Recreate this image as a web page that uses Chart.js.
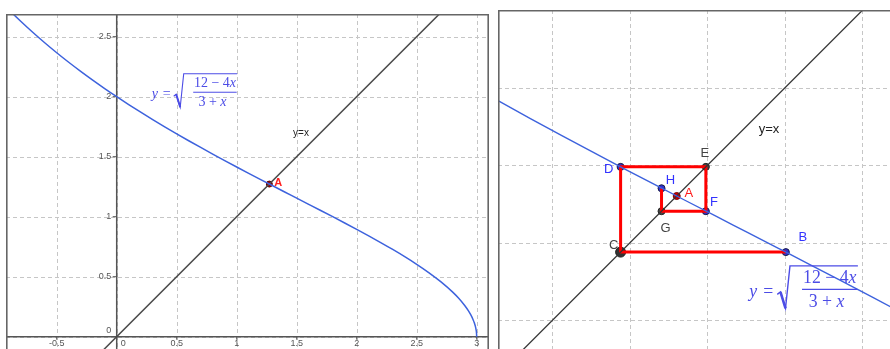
<!DOCTYPE html>
<html>
<head>
<meta charset="utf-8">
<script src="https://cdn.jsdelivr.net/npm/chart.js@4.4.1/dist/chart.umd.min.js"></script>
<style>
  html, body { margin: 0; padding: 0; background: #fff; width: 890px; height: 349px; overflow: hidden; }
  .panel { position: absolute; }
  #leftBox  { left: 6px;   top: 14px; width: 483px; height: 335px; }
  #rightBox { left: 498px; top: 10px; width: 392px; height: 339px; }
</style>
</head>
<body>
<div id="leftBox" class="panel"><canvas id="left" width="483" height="335"></canvas></div>
<div id="rightBox" class="panel"><canvas id="right" width="392" height="339"></canvas></div>
<script>
// y = sqrt((12 - 4x) / (3 + x)), sampled values
const curveX = [-1.0, -0.9, -0.8, -0.7, -0.6, -0.5, -0.4, -0.3, -0.2, -0.1, 0, 0.1, 0.2, 0.3, 0.4, 0.5, 0.6, 0.7, 0.8, 0.9, 1.0,
  1.1, 1.2, 1.3, 1.4, 1.5, 1.6, 1.7, 1.8, 1.9, 2.0, 2.1, 2.2, 2.3, 2.4, 2.5, 2.6, 2.7, 2.8, 2.85, 2.9, 2.93, 2.95, 2.97, 2.98, 2.99, 2.995, 2.998, 3.0];
const curveY = [2.8284, 2.7255, 2.6285, 2.5367, 2.4495, 2.3664, 2.2871, 2.2111, 2.1381, 2.0678, 2.0, 1.9344, 1.8708, 1.8091, 1.7490, 1.6903, 1.6330, 1.5769, 1.5218, 1.4676, 1.4142,
  1.3615, 1.3093, 1.2575, 1.2060, 1.1547, 1.1033, 1.0518, 1.0, 0.9476, 0.8944, 0.8402, 0.7845, 0.7268, 0.6667, 0.6030, 0.5345, 0.4588, 0.3714, 0.3203, 0.2604, 0.2173, 0.1833, 0.1418, 0.1157, 0.0817, 0.0578, 0.0365, 0];

// the line y = x
const diagX = [-1.5, 3.5];
const diagY = [-1.5, 3.5];

// fixed point A and the cobweb path B -> C -> D -> E -> F -> G -> H
const fixedPoint = 1.272;
const cobwebX = [1.624, 1.091, 1.091, 1.366, 1.366, 1.223, 1.223];
const cobwebY = [1.091, 1.091, 1.366, 1.366, 1.223, 1.223, 1.297];

// labelled points on the zoomed view
const pointNames = ['D', 'E', 'H', 'A', 'F', 'G', 'C', 'B'];
const pointX = [1.091, 1.366, 1.223, 1.272, 1.366, 1.223, 1.091, 1.624];
const pointY = [1.366, 1.366, 1.297, 1.272, 1.223, 1.223, 1.091, 1.091];

// axis ticks of the overview
const leftTicksX = [-0.5, 0, 0.5, 1, 1.5, 2, 2.5, 3];
const leftTickLabelsX = ['-0.5', '0', '0.5', '1', '1.5', '2', '2.5', '3'];
const leftTicksY = [0, 0.5, 1, 1.5, 2, 2.5];
const leftTickLabelsY = ['0', '0.5', '1', '1.5', '2', '2.5'];

// grid of the zoomed view
const rightGrid = [0.871, 1.121, 1.371, 1.621, 1.871];

// ---------- styling ----------
const BLUE = '#3d62dd';
const FORMULA = '#4c4ce6';
const GRID = '#c6c6c6';
const FRAME = '#666666';
const SANS = '"Liberation Sans", Arial, sans-serif';
const SERIF = '"Liberation Serif", "DejaVu Serif", serif';

const pointStyle = {
  D: { fill: '#2f2fd0', stroke: '#1a1a40', r: 3.5, text: '#3333ff', dx: -12, dy: 3 },
  E: { fill: '#444444', stroke: '#222222', r: 3.5, text: '#444444', dx: -1, dy: -13 },
  H: { fill: '#2f2fd0', stroke: '#1a1a40', r: 3.5, text: '#3333ff', dx: 9, dy: -8 },
  A: { fill: '#d00000', stroke: '#700000', r: 3.5, text: '#ff1a1a', dx: 12, dy: -3 },
  F: { fill: '#2f2fd0', stroke: '#1a1a40', r: 3.5, text: '#3333ff', dx: 8, dy: -9 },
  G: { fill: '#444444', stroke: '#222222', r: 3.5, text: '#444444', dx: 4, dy: 17 },
  C: { fill: '#333333', stroke: '#222222', r: 5, text: '#444444', dx: -7, dy: -7 },
  B: { fill: '#2f2fd0', stroke: '#1a1a40', r: 3.5, text: '#3333ff', dx: 17, dy: -15 }
};

const toXY = (xs, ys) => xs.map((x, i) => ({ x: x, y: ys[i] }));

function baseOptions(xr, yr) {
  return {
    responsive: false,
    animation: false,
    devicePixelRatio: 1,
    events: [],
    layout: { padding: 0, autoPadding: false },
    plugins: { legend: { display: false }, tooltip: { enabled: false } },
    scales: {
      x: { type: 'linear', display: false, min: xr[0], max: xr[1] },
      y: { type: 'linear', display: false, min: yr[0], max: yr[1] }
    }
  };
}

function dashedGrid(chart, xs, ys) {
  const ctx = chart.ctx, a = chart.chartArea;
  const sx = chart.scales.x, sy = chart.scales.y;
  ctx.save();
  ctx.strokeStyle = GRID;
  ctx.lineWidth = 1;
  ctx.setLineDash([4, 3]);
  xs.forEach(v => {
    if (v < sx.min || v > sx.max) return;
    const p = Math.round(sx.getPixelForValue(v)) + 0.5;
    ctx.beginPath(); ctx.moveTo(p, a.top); ctx.lineTo(p, a.bottom); ctx.stroke();
  });
  ys.forEach(v => {
    if (v < sy.min || v > sy.max) return;
    const p = Math.round(sy.getPixelForValue(v)) + 0.5;
    ctx.beginPath(); ctx.moveTo(a.left, p); ctx.lineTo(a.right, p); ctx.stroke();
  });
  ctx.restore();
}

function frame(chart, sides) {
  const ctx = chart.ctx, w = chart.width, h = chart.height;
  ctx.save();
  ctx.strokeStyle = FRAME;
  ctx.lineWidth = 1.6;
  ctx.beginPath();
  if (sides.top)   { ctx.moveTo(0, 0.8); ctx.lineTo(w, 0.8); }
  if (sides.left)  { ctx.moveTo(0.8, 0); ctx.lineTo(0.8, h); }
  if (sides.right) { ctx.moveTo(w - 0.8, 0); ctx.lineTo(w - 0.8, h); }
  ctx.stroke();
  ctx.restore();
}

function mixedText(ctx, parts, cx, cy, size) {
  let total = 0;
  parts.forEach(p => { ctx.font = `${p[1]} ${size}px ${SERIF}`; total += ctx.measureText(p[0]).width; });
  let x = cx - total / 2;
  parts.forEach(p => {
    ctx.font = `${p[1]} ${size}px ${SERIF}`;
    ctx.fillText(p[0], x, cy);
    x += ctx.measureText(p[0]).width;
  });
}

// y = sqrt((12 - 4x)/(3 + x)) written with a radical sign and a fraction bar
function drawFormula(ctx, ox, oy, k, color) {
  const fs = 14 * k;
  ctx.save();
  ctx.fillStyle = color;
  ctx.strokeStyle = color;
  ctx.textBaseline = 'middle';
  ctx.textAlign = 'left';
  ctx.font = `italic ${fs}px ${SERIF}`;
  ctx.fillText('y', ox, oy + 2.5 * k);
  ctx.font = `${fs}px ${SERIF}`;
  ctx.fillText('=', ox + 11 * k, oy + 2.5 * k);
  ctx.lineJoin = 'miter';
  ctx.lineWidth = 1.1 * k;
  ctx.beginPath();
  ctx.moveTo(ox + 22 * k, oy + 4 * k);
  ctx.lineTo(ox + 24.5 * k, oy + 2 * k);
  ctx.lineTo(ox + 28.5 * k, oy + 15 * k);
  ctx.lineTo(ox + 32 * k, oy - 18.5 * k);
  ctx.lineTo(ox + 85.5 * k, oy - 18.5 * k);
  ctx.stroke();
  ctx.lineWidth = 2 * k;
  ctx.beginPath();
  ctx.moveTo(ox + 24.5 * k, oy + 2 * k);
  ctx.lineTo(ox + 28.5 * k, oy + 15 * k);
  ctx.stroke();
  ctx.lineWidth = 1 * k;
  ctx.beginPath();
  ctx.moveTo(ox + 41.5 * k, oy);
  ctx.lineTo(ox + 85 * k, oy);
  ctx.stroke();
  mixedText(ctx, [['12 \u2212 4', ''], ['x', 'italic']], ox + 63.3 * k, oy - 9 * k, fs);
  mixedText(ctx, [['3 + ', ''], ['x', 'italic']], ox + 60.8 * k, oy + 10.5 * k, fs);
  ctx.restore();
}

// ---------- overview: whole curve and y = x ----------
const leftDecor = {
  id: 'leftDecor',
  beforeDatasetsDraw(chart) {
    const ctx = chart.ctx, a = chart.chartArea;
    const sx = chart.scales.x, sy = chart.scales.y;
    dashedGrid(chart, leftTicksX, leftTicksY);
    const x0 = sx.getPixelForValue(0), y0 = sy.getPixelForValue(0);
    ctx.save();
    ctx.strokeStyle = '#555555';
    ctx.lineWidth = 1.5;
    ctx.beginPath();
    ctx.moveTo(a.left, y0); ctx.lineTo(a.right, y0);
    ctx.moveTo(x0, a.top); ctx.lineTo(x0, a.bottom);
    ctx.stroke();
    ctx.lineWidth = 1;
    ctx.beginPath();
    leftTicksX.forEach(v => { if (v === 0) return; const p = sx.getPixelForValue(v); ctx.moveTo(p, y0); ctx.lineTo(p, y0 + 3); });
    leftTicksY.forEach(v => { if (v === 0) return; const p = sy.getPixelForValue(v); ctx.moveTo(x0 - 4, p); ctx.lineTo(x0, p); });
    ctx.stroke();
    ctx.fillStyle = '#555555';
    ctx.font = `9px ${SANS}`;
    ctx.textBaseline = 'middle';
    ctx.textAlign = 'center';
    leftTicksX.forEach((v, i) => {
      const p = sx.getPixelForValue(v);
      ctx.fillText(leftTickLabelsX[i], v === 0 ? p + 6.5 : p, y0 + 7);
    });
    ctx.textAlign = 'right';
    leftTicksY.forEach((v, i) => {
      const p = sy.getPixelForValue(v);
      ctx.fillText(leftTickLabelsY[i], x0 - 5.5, v === 0 ? p - 6 : p);
    });
    ctx.restore();
  },
  afterDatasetsDraw(chart) {
    const ctx = chart.ctx;
    const sx = chart.scales.x, sy = chart.scales.y;
    ctx.save();
    ctx.textBaseline = 'middle';
    ctx.textAlign = 'center';
    ctx.fillStyle = '#222222';
    ctx.font = `10px ${SANS}`;
    ctx.fillText('y=x', sx.getPixelForValue(1.536), sy.getPixelForValue(1.6975));
    ctx.fillStyle = '#ff2020';
    ctx.font = `bold 11px ${SANS}`;
    ctx.fillText('A', sx.getPixelForValue(fixedPoint) + 9, sy.getPixelForValue(fixedPoint) - 1);
    ctx.restore();
    drawFormula(ctx, sx.getPixelForValue(0.2917), sy.getPixelForValue(2.037), 1, FORMULA);
    frame(chart, { top: true, left: true, right: true });
  }
};

new Chart(document.getElementById('left'), {
  type: 'scatter',
  data: {
    datasets: [
      { data: toXY(curveX, curveY), showLine: true, borderColor: BLUE, borderWidth: 1.5, pointRadius: 0,
        cubicInterpolationMode: 'monotone' },
      { data: toXY(diagX, diagY), showLine: true, borderColor: '#4a4a4a', borderWidth: 1.5, pointRadius: 0 },
      { data: [{ x: fixedPoint, y: fixedPoint }], pointRadius: 3, pointBackgroundColor: '#a00000',
        pointBorderColor: '#5a0000', pointBorderWidth: 1 }
    ]
  },
  options: baseOptions([-0.9225, 3.1025], [-0.1025, 2.689]),
  plugins: [leftDecor]
});

// ---------- zoomed view: cobweb around A ----------
const rightDecor = {
  id: 'rightDecor',
  beforeDatasetsDraw(chart) {
    dashedGrid(chart, rightGrid, rightGrid);
  },
  afterDatasetsDraw(chart) {
    const ctx = chart.ctx;
    const sx = chart.scales.x, sy = chart.scales.y;
    ctx.save();
    ctx.textBaseline = 'middle';
    ctx.textAlign = 'center';
    ctx.font = `13px ${SANS}`;
    pointNames.forEach((n, i) => {
      const st = pointStyle[n];
      ctx.fillStyle = st.text;
      ctx.fillText(n, sx.getPixelForValue(pointX[i]) + st.dx, sy.getPixelForValue(pointY[i]) + st.dy);
    });
    ctx.fillStyle = '#222222';
    ctx.font = `13px ${SANS}`;
    ctx.fillText('y=x', sx.getPixelForValue(1.5697), sy.getPixelForValue(1.4881));
    ctx.restore();
    drawFormula(ctx, sx.getPixelForValue(1.5062), sy.getPixelForValue(0.971), 1.27, FORMULA);
    frame(chart, { top: true, left: true });
  }
};

new Chart(document.getElementById('right'), {
  type: 'scatter',
  data: {
    datasets: [
      { data: toXY(curveX, curveY), showLine: true, borderColor: BLUE, borderWidth: 1.4, pointRadius: 0,
        cubicInterpolationMode: 'monotone' },
      { data: toXY(diagX, diagY), showLine: true, borderColor: '#333333', borderWidth: 1.3, pointRadius: 0 },
      { data: toXY(cobwebX, cobwebY), showLine: true, borderColor: '#ff0000', borderWidth: 3, pointRadius: 0,
        borderJoinStyle: 'miter' },
      { data: toXY(pointX, pointY),
        pointRadius: pointNames.map(n => pointStyle[n].r),
        pointBackgroundColor: pointNames.map(n => pointStyle[n].fill),
        pointBorderColor: pointNames.map(n => pointStyle[n].stroke),
        pointBorderWidth: 1 }
    ]
  },
  options: baseOptions([0.6955, 1.960], [0.7785, 1.872]),
  plugins: [rightDecor]
});
</script>
</body>
</html>
